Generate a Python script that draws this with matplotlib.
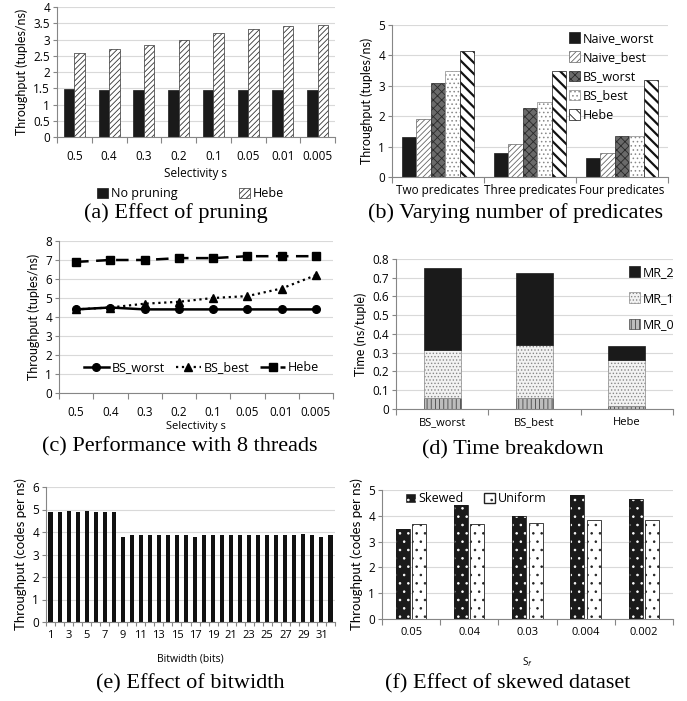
import numpy as np
import matplotlib
matplotlib.use("Agg")
import matplotlib.pyplot as plt
from matplotlib.patches import Patch

plt.rcParams['font.family'] = ['Open Sans', 'DejaVu Sans']
plt.rcParams['font.size'] = 8
plt.rcParams['hatch.linewidth'] = 0.6

W, H = 687, 701

# (a) effect of pruning
sel_labels = ['0.5', '0.4', '0.3', '0.2', '0.1', '0.05', '0.01', '0.005']
no_pruning = [1.47, 1.46, 1.45, 1.44, 1.46, 1.46, 1.46, 1.45]
hebe_a = [2.57, 2.70, 2.82, 2.99, 3.20, 3.32, 3.42, 3.44]

# (b) number of predicates
pred_labels = ['Two predicates', 'Three predicates', 'Four predicates']
pred_series = ['Naive_worst', 'Naive_best', 'BS_worst', 'BS_best', 'Hebe']
naive_worst = [1.32, 0.80, 0.64]
naive_best = [1.90, 1.10, 0.80]
bs_worst_b = [3.10, 2.27, 1.35]
bs_best_b = [3.48, 2.48, 1.35]
hebe_b = [4.14, 3.50, 3.20]

# (c) 8 threads
bs_worst_c = [4.4, 4.5, 4.4, 4.4, 4.4, 4.4, 4.4, 4.4]
bs_best_c = [4.4, 4.5, 4.7, 4.8, 5.0, 5.1, 5.5, 6.2]
hebe_c = [6.9, 7.0, 7.0, 7.1, 7.1, 7.2, 7.2, 7.2]

# (d) time breakdown
tb_labels = ['BS_worst', 'BS_best', 'Hebe']
mr0 = [0.060, 0.060, 0.015]
mr1 = [0.252, 0.282, 0.245]
mr2 = [0.438, 0.383, 0.078]

# (e) bitwidth
bitwidths = list(range(1, 33))
bw_tput = [4.90, 4.90, 4.95, 4.90, 4.95, 4.90, 4.90, 4.90,
           3.80, 3.85, 3.85, 3.85, 3.85, 3.85, 3.85, 3.85,
           3.80, 3.85, 3.85, 3.85, 3.85, 3.85, 3.85, 3.85,
           3.85, 3.85, 3.85, 3.85, 3.90, 3.85, 3.80, 3.85]

# (f) skewed dataset
sf_labels = ['0.05', '0.04', '0.03', '0.004', '0.002']
skewed = [3.50, 4.40, 4.00, 4.80, 4.65]
uniform = [3.70, 3.70, 3.72, 3.83, 3.83]

fig = plt.figure(figsize=(W / 100, H / 100), dpi=100)


def make_ax(l, t, r, b):
    return fig.add_axes([l / W, 1 - b / H, (r - l) / W, (b - t) / H])


def style(ax, n, ymax, ystep, labels, ylabel, ylsize=9):
    ax.set_xlim(-0.5, n - 0.5)
    ax.set_ylim(0, ymax)
    yt = np.arange(0, ymax + ystep / 2, ystep)
    ax.set_yticks(yt)
    ax.set_yticklabels(['{:g}'.format(round(v, 3)) for v in yt])
    ax.yaxis.grid(True, color='#d9d9d9', lw=0.8)
    ax.set_axisbelow(True)
    for s in ['top', 'right']:
        ax.spines[s].set_visible(False)
    for s in ['left', 'bottom']:
        ax.spines[s].set_color('#868686')
        ax.spines[s].set_linewidth(0.8)
    ax.set_xticks(np.arange(-0.5, n, 1.0))
    ax.set_xticklabels([])
    ax.set_xticks(np.arange(n), minor=True)
    ax.set_xticklabels(labels, minor=True)
    ax.tick_params(axis='x', which='major', length=4, color='#868686', width=0.8)
    ax.tick_params(axis='x', which='minor', length=0, pad=9, labelsize=8.5)
    ax.tick_params(axis='y', length=3, color='#868686', width=0.8, pad=2, labelsize=8.5)
    ax.set_ylabel(ylabel, family=['Lato', 'DejaVu Sans'], fontsize=ylsize)


cap = dict(family='Liberation Serif', fontsize=16, ha='center', va='center')
leg_kw = dict(frameon=False, fontsize=9, handlelength=0.9, handleheight=0.9, handletextpad=0.2)

# (a)
ax = make_ax(57, 7, 335, 137)
x = np.arange(len(sel_labels))
ax.bar(x - 0.15, no_pruning, 0.3, color='#1a1a1a', edgecolor='#1a1a1a', lw=0.5, label='No pruning')
ax.bar(x + 0.15, hebe_a, 0.3, color='white', edgecolor='#333333', hatch='//////', lw=0.5, label='Hebe')
style(ax, 8, 4, 0.5, sel_labels, 'Throughput (tuples/ns)')
ax.set_xlabel('Selectivity s', labelpad=3, fontsize=8.5)
ax.legend(loc='upper center', bbox_to_anchor=(0.48, -0.30), ncol=2,
          columnspacing=4.9, **leg_kw)
fig.text(176 / W, 1 - 213 / H, '(a) Effect of pruning', **cap)

# (b)
ax = make_ax(392, 25, 668, 177)
x = np.arange(len(pred_labels))
bw = 0.157
vals = [naive_worst, naive_best, bs_worst_b, bs_best_b, hebe_b]
styles = [dict(color='#1a1a1a', edgecolor='#1a1a1a', hatch=None),
          dict(color='white', edgecolor='#666666', hatch='//////'),
          dict(color='#6a6a6a', edgecolor='#2a2a2a', hatch='xxxx'),
          dict(color='white', edgecolor='#888888', hatch='....'),
          dict(color='white', edgecolor='#111111', hatch='\\\\\\')]
for i, (v, st, nm) in enumerate(zip(vals, styles, pred_series)):
    hlw = 1.6 if i == 4 else 0.6
    with plt.rc_context({'hatch.linewidth': hlw}):
        ax.bar(x + (i - 2) * bw, v, bw, lw=0.5, label=nm, **st)
style(ax, 3, 5, 1, pred_labels, 'Throughput (tuples/ns)')
ax.tick_params(axis='x', which='minor', pad=5)
ax.legend(loc='upper left', bbox_to_anchor=(0.6, 1.03), labelspacing=0.5, **leg_kw)
fig.text(515 / W, 1 - 213 / H, '(b) Varying number of predicates', **cap)

# (c)
ax = make_ax(59, 241, 333, 393)
x = np.arange(len(sel_labels))
ax.plot(x, bs_worst_c, '-', color='black', lw=1.8, marker='o', ms=5.5, label='BS_worst')
ax.plot(x, bs_best_c, ':', color='black', lw=1.6, marker='^', ms=5.5, label='BS_best')
ax.plot(x, hebe_c, '--', color='black', lw=1.8, marker='s', ms=5.5, dashes=(5, 3), label='Hebe')
style(ax, 8, 8, 1, sel_labels, 'Throughput (tuples/ns)')
ax.set_xlabel('Selectivity s', labelpad=2, fontsize=8)
ax.legend(loc='center', bbox_to_anchor=(0.52, 0.165), ncol=3, frameon=False,
          handlelength=2.0, handletextpad=0.2, columnspacing=0.9, fontsize=9)
fig.text(180 / W, 1 - 447 / H, '(c) Performance with 8 threads', **cap)

# (d)
ax = make_ax(396, 259, 673, 409)
x = np.arange(len(tb_labels))
b0 = np.array(mr0)
b1 = b0 + np.array(mr1)
ax.bar(x, mr0, 0.4, color='#bdbdbd', edgecolor='#444444', hatch='||||', lw=0.5, label='MR_0')
ax.bar(x, mr1, 0.4, bottom=b0, color='#f2f2f2', edgecolor='#888888', hatch='.....', lw=0.5, label='MR_1')
ax.bar(x, mr2, 0.4, bottom=b1, color='#1a1a1a', edgecolor='#1a1a1a', lw=0.5, label='MR_2')
style(ax, 3, 0.8, 0.1, tb_labels, 'Time (ns/tuple)')
ax.tick_params(axis='x', which='minor', pad=6, labelsize=8)
h, l = ax.get_legend_handles_labels()
ax.legend(h[::-1], l[::-1], loc='upper left', bbox_to_anchor=(0.8, 1.03),
          labelspacing=1.05, **leg_kw)
fig.text(513 / W, 1 - 450 / H, '(d) Time breakdown', **cap)

# (e)
ax = make_ax(46, 487, 335, 622)
x = np.arange(len(bitwidths))
ax.bar(x, bw_tput, 0.45, color='#111111')
style(ax, 32, 6, 1, [str(b) if b % 2 else '' for b in bitwidths], 'Throughput (codes per ns)', 9.5)
ax.tick_params(axis='x', which='major', length=3)
ax.tick_params(axis='x', which='minor', pad=6, labelsize=8)
ax.set_xlabel('Bitwidth (bits)', labelpad=9, fontsize=7.5)
fig.text(190 / W, 1 - 684 / H, '(e) Effect of bitwidth', **cap)

# (f)
ax = make_ax(382, 490, 673, 619)
x = np.arange(len(sf_labels))
ax.bar(x - 0.143, skewed, 0.24, color='#1a1a1a', edgecolor='white', hatch='..', lw=0)
ax.bar(x - 0.143, skewed, 0.24, color='none', edgecolor='#1a1a1a', lw=0.6)
ax.bar(x + 0.138, uniform, 0.24, color='white', edgecolor='#222222', hatch='..', lw=0.6)
style(ax, 5, 5, 1, sf_labels, 'Throughput (codes per ns)', 9.5)
ax.tick_params(axis='x', which='minor', pad=6, labelsize=8)
hs = [Patch(facecolor='#1a1a1a', edgecolor='white', hatch='..'),
      Patch(facecolor='white', edgecolor='#222222', hatch='..')]
ax.legend(hs, ['Skewed', 'Uniform'], loc='upper left', bbox_to_anchor=(0.04, 1.07), ncol=2,
          columnspacing=1.6, **leg_kw)
ax.set_xlabel('S$_f$', labelpad=12, fontsize=7)
fig.text(508 / W, 1 - 684 / H, '(f) Effect of skewed dataset', **cap)

fig.savefig('out.png', dpi=100)
